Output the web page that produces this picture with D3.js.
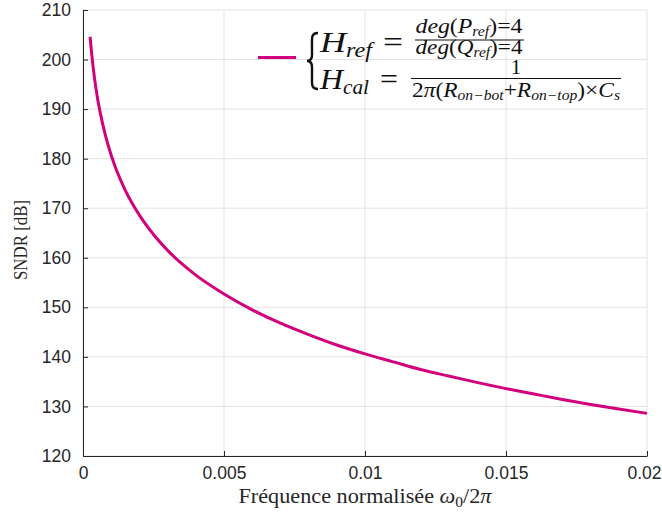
<!DOCTYPE html>
<html><head><meta charset="utf-8">
<script src="https://cdn.jsdelivr.net/npm/d3@7"></script>
<style>body{margin:0;background:#fff}
.serif{font-family:'Liberation Serif','DejaVu Serif','Noto Serif',serif;}
.sans{font-family:'Liberation Sans',Arial,sans-serif;}
</style></head>
<body><svg id="c" width="662" height="512"></svg>
<script>
// Data
const freq = [0.00025,0.0003,0.0004,0.0005,0.0006,0.0008,0.001,0.0012,0.0015,0.002,0.0025,0.003,0.0035,0.004,0.005,0.006,0.007,0.008,0.009,0.010,0.011,0.012,0.013,0.014,0.015,0.016,0.017,0.018,0.019,0.020];
const sndr = [204.6,201.6,196.6,192.7,189.6,184.6,180.7,177.5,173.6,168.6,164.7,161.5,158.8,156.5,152.7,149.5,146.8,144.5,142.4,140.6,139.0,137.4,136.1,134.8,133.6,132.5,131.4,130.4,129.5,128.6];
const xTicks = [0,0.005,0.01,0.015,0.02];
const xTickLabels = ["0","0.005","0.01","0.015","0.02"];
const yTicks = [120,130,140,150,160,170,180,190,200,210];
const xDomain = [0,0.02];
const yDomain = [120,210];

const svg = d3.select("#c");
const L=83, R=647, T=10, B=456;
const x = d3.scaleLinear(xDomain,[L,R]);
const y = d3.scaleLinear(yDomain,[B,T]);
const lineColor = "#d2007c";

// grid
const g = svg.append("g");
g.selectAll(".gx").data(xTicks).join("line")
  .attr("x1",d=>x(d)).attr("x2",d=>x(d)).attr("y1",T).attr("y2",B)
  .attr("stroke","#e3e3e3").attr("stroke-width",1);
g.selectAll(".gy").data(yTicks).join("line")
  .attr("y1",d=>y(d)).attr("y2",d=>y(d)).attr("x1",L).attr("x2",R)
  .attr("stroke","#e3e3e3").attr("stroke-width",1);

// axes
const fmtX = (d,i)=>xTickLabels[i];
const ax = svg.append("g").attr("transform",`translate(0,${B})`)
  .call(d3.axisBottom(x).tickValues(xTicks).tickFormat(fmtX).tickSizeInner(-5).tickSizeOuter(0).tickPadding(11));
const ay = svg.append("g").attr("transform",`translate(${L},0)`)
  .call(d3.axisLeft(y).tickValues(yTicks).tickSizeInner(-5).tickSizeOuter(0).tickPadding(12));
[ax,ay].forEach(a=>{
  a.attr("font-family",null).attr("font-size",null);
  a.select(".domain").attr("stroke","#262626");
  a.selectAll(".tick line").attr("stroke","#262626");
  a.selectAll("text").attr("class","sans").style("font-size","17.5px").attr("fill","#262626");
});
ax.selectAll(".tick text").filter((d,i)=>i===xTicks.length-1).attr("x",-3);

// curve
svg.append("path").datum(freq.map((f,i)=>[f,sndr[i]]))
  .attr("fill","none").attr("stroke",lineColor).attr("stroke-width",3)
  .attr("d",d3.line().x(d=>x(d[0])).y(d=>y(d[1])).curve(d3.curveMonotoneX));

// axis labels
const xl = svg.append("text").attr("class","serif").attr("x",365).attr("y",502.5).attr("text-anchor","middle")
  .style("font-size","20px").attr("fill","#262626")
  .attr("textLength",253).attr("lengthAdjust","spacingAndGlyphs");
xl.append("tspan").text("Fréquence normalisée ");
xl.append("tspan").attr("font-style","italic").text("ω");
xl.append("tspan").style("font-size","14px").attr("dy",4).text("0");
xl.append("tspan").attr("dy",-4).text("/2");
xl.append("tspan").attr("font-style","italic").text("π");

svg.append("text").attr("class","serif").attr("transform","translate(27,240) rotate(-90)").attr("text-anchor","middle")
  .style("font-size","18px").attr("fill","#262626")
  .attr("textLength",80).attr("lengthAdjust","spacingAndGlyphs").text("SNDR [dB]");

// legend
function math(xp, yp, pieces, size, anchor, len){
  const t = svg.append("text").attr("class","serif").attr("x",xp).attr("y",yp).attr("text-anchor",anchor||"start")
    .style("font-size",size+"px").attr("fill","#111");
  if(len) t.attr("textLength",len).attr("lengthAdjust","spacingAndGlyphs");
  let off = 0;
  pieces.forEach(p=>{
    const s = t.append("tspan").text(p.t);
    if(p.i) s.attr("font-style","italic");
    const target = p.sub ? p.sub : 0;
    if(p.size) s.style("font-size",p.size+"px");
    if(target!==off){ s.attr("dy",target-off); off=target; }
  });
  return t;
}
svg.append("line").attr("x1",258).attr("x2",296).attr("y1",57.5).attr("y2",57.5)
  .attr("stroke",lineColor).attr("stroke-width",3);
// brace
svg.append("path").attr("d","M318,33 C311,33 312,38 312,46 L312,55 C312,59 310,61 307,61 C310,61 312,63 312,67 L312,76 C312,84 311,89 318,89")
  .attr("fill","none").attr("stroke","#111").attr("stroke-width",2.4);

math(320,52,[{t:"H",i:1},{t:"ref",i:1,size:20,sub:5}],30,"start",52);
math(383,52,[{t:"="}],30,"start",20);
math(469,33,[{t:"deg",i:1},{t:"("},{t:"P",i:1},{t:"ref",i:1,size:14,sub:3},{t:")=4"}],21,"middle",107);
svg.append("line").attr("x1",415).attr("x2",524).attr("y1",40).attr("y2",40).attr("stroke","#111").attr("stroke-width",1.2);
math(469,54,[{t:"deg",i:1},{t:"("},{t:"Q",i:1},{t:"ref",i:1,size:14,sub:3},{t:")=4"}],21,"middle",107);

math(320,89,[{t:"H",i:1},{t:"cal",i:1,size:20,sub:5}],30,"start",49);
math(380,89,[{t:"="}],30,"start",18);
math(516,74,[{t:"1"}],21,"middle");
svg.append("line").attr("x1",411).attr("x2",621).attr("y1",78.5).attr("y2",78.5).attr("stroke","#111").attr("stroke-width",1.2);
math(516,97,[{t:"2"},{t:"π",i:1},{t:"("},{t:"R",i:1},{t:"on−bot",i:1,size:14,sub:3},{t:"+"},{t:"R",i:1},{t:"on−top",i:1,size:14,sub:3},{t:")×"},{t:"C",i:1},{t:"s",i:1,size:14,sub:3}],21,"middle",208);
</script></body></html>
